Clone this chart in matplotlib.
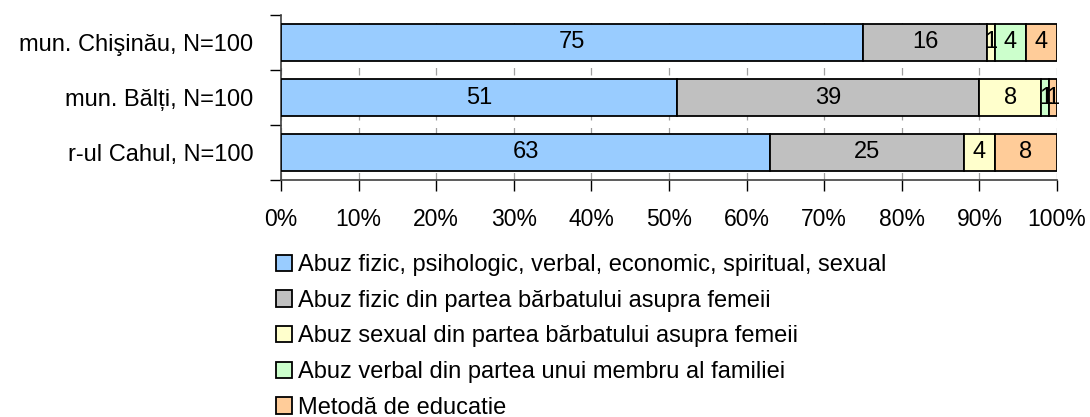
import matplotlib.pyplot as plt
from matplotlib.patches import Patch
import matplotlib.ticker as ticker

plt.rcParams['font.family'] = ['Liberation Sans', 'DejaVu Sans']

regions = ['mun. Chişinău, N=100', 'mun. Bălți, N=100', 'r-ul Cahul, N=100']
categories = [
    'Abuz fizic, psihologic, verbal, economic, spiritual, sexual',
    'Abuz fizic din partea bărbatului asupra femeii',
    'Abuz sexual din partea bărbatului asupra femeii',
    'Abuz verbal din partea unui membru al familiei',
    'Metodă de educatie',
]
values = [
    [75, 51, 63],
    [16, 39, 25],
    [1, 8, 4],
    [4, 1, 0],
    [4, 1, 8],
]
colors = ['#99CCFF', '#C0C0C0', '#FFFFCC', '#CCFFCC', '#FFCC99']

fig = plt.figure(figsize=(10.9, 4.17), dpi=100)
ax = fig.add_axes([281 / 1090, 1 - 180 / 417, 776 / 1090, 165 / 417])

fs = 17
ypos = list(range(len(regions)))
left = [0] * len(regions)
for vals, col in zip(values, colors):
    ax.barh(ypos, vals, left=left, height=0.66, color=col,
            edgecolor='black', linewidth=1.3, zorder=3)
    for y, v, l in zip(ypos, vals, left):
        if v > 0:
            ax.text(l + v / 2, y, str(v), ha='center', va='center',
                    fontsize=fs, zorder=4)
    left = [l + v for l, v in zip(left, vals)]

ax.set_xlim(0, 100)
ax.set_ylim(2.5, -0.5)
ax.xaxis.set_major_locator(ticker.MultipleLocator(10))
ax.xaxis.set_major_formatter(ticker.FuncFormatter(lambda x, p: f'{x:.0f}%'))
ax.tick_params(axis='x', length=8, width=1, direction='out', pad=12,
               labelsize=16.5)
ax.grid(axis='x', color='#A0A0A0', linestyle=(0, (6, 6)), linewidth=0.9,
        zorder=0)

ax.set_yticks([-0.5, 0.5, 1.5, 2.5])
ax.set_yticklabels([])
ax.set_yticks(ypos, minor=True)
ax.set_yticklabels(regions, minor=True, fontsize=fs)
ax.tick_params(axis='y', which='major', length=8, width=1)
ax.tick_params(axis='y', which='minor', length=0, pad=20)

for s in ['top', 'right']:
    ax.spines[s].set_visible(False)
for s in ['left', 'bottom']:
    ax.spines[s].set_color('#404040')
    ax.spines[s].set_linewidth(1.2)

handles = [Patch(facecolor=c, edgecolor='black', linewidth=1.3) for c in colors]
fig.legend(handles, categories, loc='upper left',
           bbox_to_anchor=(276 / 1090, 1 - 254 / 417), frameon=False,
           fontsize=fs, handlelength=0.68, handleheight=0.68,
           handletextpad=0.25, labelspacing=0.58, borderpad=0,
           borderaxespad=0)

fig.savefig('out.png', dpi=100)
